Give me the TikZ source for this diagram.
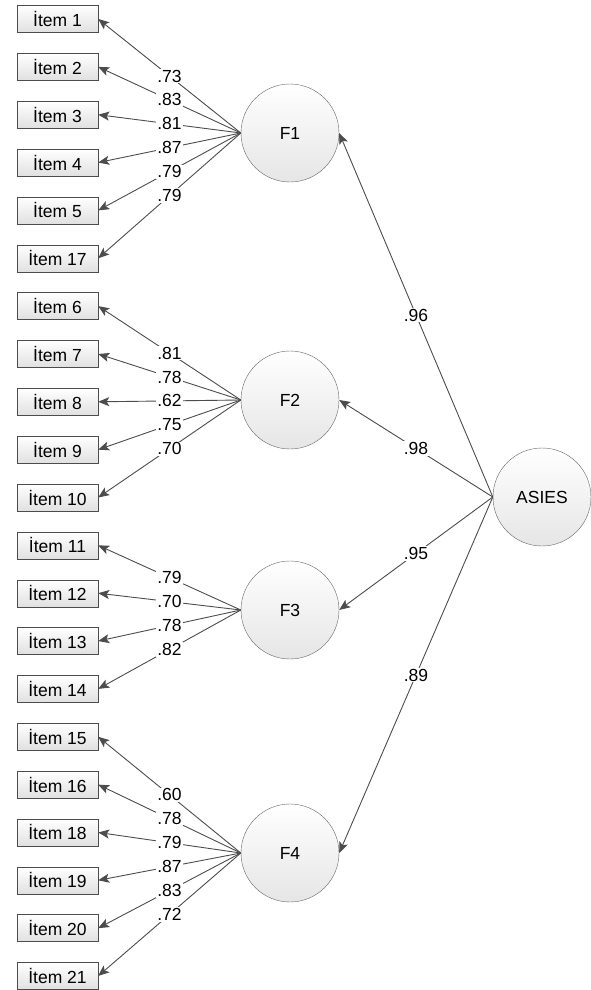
\documentclass[tikz,border=0pt]{standalone}
\usepackage{fontspec}
\setmainfont{Liberation Sans}
\usetikzlibrary{arrows.meta}
\begin{document}
\begin{tikzpicture}[x=1pt, y=-1pt, >={Stealth[length=11pt, width=9pt, inset=2.5pt]},
  item/.style={rectangle, draw=black!70, top color=white, bottom color=black!12, minimum width=81pt, minimum height=27pt, inner sep=0pt, font=\fontsize{17.5}{20}\selectfont},
  factor/.style={circle, draw=black!60, top color=white, bottom color=black!10, minimum size=98pt, inner sep=0pt, font=\fontsize{17.5}{20}\selectfont},
  load/.style={draw=black!70, line width=0.9pt},
  coef/.style={fill=white, inner sep=1pt, font=\fontsize{17.5}{20}\selectfont}]
\useasboundingbox (0,0) rectangle (591,990);

\foreach \n [count=\k from 0] in {1,2,3,4,5,17,6,7,8,9,10,11,12,13,14,15,16,18,19,20,21}
  \node[item] (item-\n) at (57.5, {19+47.85*\k}) {İtem \n};

\node[factor] (f-1) at (290, 133) {F1};
\node[factor] (f-2) at (290, 400) {F2};
\node[factor] (f-3) at (290, 610) {F3};
\node[factor] (f-4) at (290, 853) {F4};
\node[factor] (asies) at (542, 497) {ASIES};

\foreach \n/\v in {1/.73, 2/.83, 3/.81, 4/.87, 5/.79, 17/.79}
  \draw[load, ->] (f-1.west) -- node[coef] {\v} (item-\n.east);
\foreach \n/\v in {6/.81, 7/.78, 8/.62, 9/.75, 10/.70}
  \draw[load, ->] (f-2.west) -- node[coef] {\v} (item-\n.east);
\foreach \n/\v in {11/.79, 12/.70, 13/.78, 14/.82}
  \draw[load, ->] (f-3.west) -- node[coef] {\v} (item-\n.east);
\foreach \n/\v in {15/.60, 16/.78, 18/.79, 19/.87, 20/.83, 21/.72}
  \draw[load, ->] (f-4.west) -- node[coef] {\v} (item-\n.east);

\draw[load, ->] (asies.west) -- node[coef] {.96} (f-1.east);
\draw[load, ->] (asies.west) -- node[coef] {.98} (f-2.east);
\draw[load, ->] (asies.west) -- node[coef] {.95} (f-3.east);
\draw[load, ->] (asies.west) -- node[coef] {.89} (f-4.east);
\end{tikzpicture}
\end{document}
